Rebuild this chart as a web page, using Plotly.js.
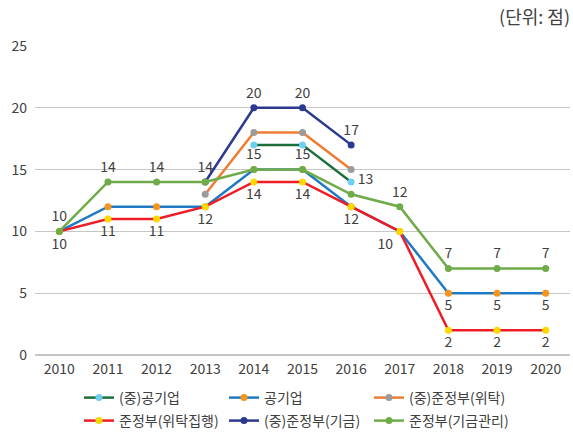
<!DOCTYPE html>
<html>
<head>
<meta charset="utf-8">
<script src="https://cdn.plot.ly/plotly-3.0.1.min.js"></script>
<style>html,body{margin:0;padding:0;background:#fff;}#chart{width:573px;height:433px;}</style>
</head>
<body>
<div id="chart"></div>
<script>
var years = [2010, 2011, 2012, 2013, 2014, 2015, 2016, 2017, 2018, 2019, 2020];

var seriesNames = ['(중)공기업', '공기업', '(중)준정부(위탁)', '준정부(위탁집행)', '(중)준정부(기금)', '준정부(기금관리)'];

var jungGonggiup      = [null, null, null, null, 17, 17, 14, null, null, null, null];
var gonggiup          = [10, 12, 12, 12, 15, 15, 12, 10, 5, 5, 5];
var jungJunjeongWitak = [null, null, null, 13, 18, 18, 15, null, null, null, null];
var junjeongWitakJiphaeng = [10, 11, 11, 12, 14, 14, 12, 10, 2, 2, 2];
var jungJunjeongGigeum = [null, null, null, 14, 20, 20, 17, null, null, null, null];
var junjeongGigeumGwanri = [10, 14, 14, 14, 15, 15, 13, 12, 7, 7, 7];

var yTicks = [0, 5, 10, 15, 20, 25];
var unitLabel = '(단위: 점)';

var FONT = '"Noto Sans CJK KR", "Noto Sans", sans-serif';
var TXT = '#404040';

var styles = [
  {line: '#1d6e3a', marker: '#6fcff2'},
  {line: '#1f7ac6', marker: '#f7941d'},
  {line: '#ee7d34', marker: '#9b9b9b'},
  {line: '#ee1c25', marker: '#ffd800'},
  {line: '#2b3990', marker: '#2b3990'},
  {line: '#6fab49', marker: '#6fab49'}
];
var seriesData = [jungGonggiup, gonggiup, jungJunjeongWitak, junjeongWitakJiphaeng, jungJunjeongGigeum, junjeongGigeumGwanri];

var traces = [];
seriesData.forEach(function (vals, i) {
  traces.push({
    type: 'scatter', mode: 'lines+markers', name: seriesNames[i],
    x: years, y: vals, connectgaps: false,
    line: {color: styles[i].line, width: 2.5},
    marker: {color: styles[i].marker, size: 7},
    legend: i < 3 ? 'legend' : 'legend2',
    hoverinfo: 'skip'
  });
});

// data labels: which series / years carry a value label, and where
function labelTrace(vals, yrs, positions) {
  var xs = [], ys = [], ts = [], ps = [];
  years.forEach(function (yr, k) {
    var j = yrs.indexOf(yr);
    if (j >= 0 && vals[k] !== null) {
      xs.push(yr); ys.push(vals[k]); ts.push(String(vals[k])); ps.push(positions[j]);
    }
  });
  return {
    type: 'scatter', mode: 'markers+text', x: xs, y: ys, text: ts, textposition: ps,
    marker: {size: 9, opacity: 0}, showlegend: false, hoverinfo: 'skip',
    textfont: {family: FONT, size: 14, color: TXT}
  };
}
traces.push(labelTrace(junjeongGigeumGwanri, years,
  ['top center', 'top center', 'top center', 'top center', 'top center', 'top center', 'top right', 'top center', 'top center', 'top center', 'top center']));
traces.push(labelTrace(jungJunjeongGigeum, [2014, 2015, 2016], ['top center', 'top center', 'top center']));
traces.push(labelTrace(junjeongWitakJiphaeng, years,
  ['bottom center', 'bottom center', 'bottom center', 'bottom center', 'bottom center', 'bottom center', 'bottom center', 'bottom left', 'bottom center', 'bottom center', 'bottom center']));
traces.push(labelTrace(gonggiup, [2018, 2019, 2020], ['bottom center', 'bottom center', 'bottom center']));

var legendBase = {
  orientation: 'h', xref: 'container', yref: 'container', xanchor: 'left', yanchor: 'middle',
  x: 79 / 573, entrywidth: 100, font: {family: FONT, size: 14, color: TXT}, bgcolor: 'rgba(0,0,0,0)'
};

var layout = {
  width: 573, height: 433,
  margin: {l: 35, r: 3, t: 46, b: 78},
  paper_bgcolor: '#fff', plot_bgcolor: '#fff',
  font: {family: FONT, color: TXT, size: 14},
  hovermode: false,
  title: {text: unitLabel, x: 570 / 573, xanchor: 'right', xref: 'container', y: 1 - 18 / 433, yanchor: 'middle', yref: 'container',
          font: {family: FONT, size: 18, color: TXT}},
  xaxis: {range: [2009.5, 2020.5], tickmode: 'array', tickvals: years, ticktext: years.map(String),
          showgrid: false, zeroline: false, showline: false, ticks: '', ticklabelstandoff: 4,
          tickfont: {family: FONT, size: 14, color: TXT}, fixedrange: true},
  yaxis: {range: [0, 25], tickmode: 'array', tickvals: yTicks, showgrid: true, gridcolor: '#c6c6c6', gridwidth: 1.3,
          zeroline: true, zerolinecolor: '#c6c6c6', zerolinewidth: 1.3, showline: false, ticks: '', ticklabelstandoff: 7,
          tickfont: {family: FONT, size: 14, color: TXT}, fixedrange: true},
  legend: Object.assign({}, legendBase, {y: 1 - 398 / 433}),
  legend2: Object.assign({}, legendBase, {y: 1 - 421 / 433}),
  showlegend: true
};

Plotly.newPlot('chart', traces, layout, {displayModeBar: false, staticPlot: true});
</script>
</body>
</html>
